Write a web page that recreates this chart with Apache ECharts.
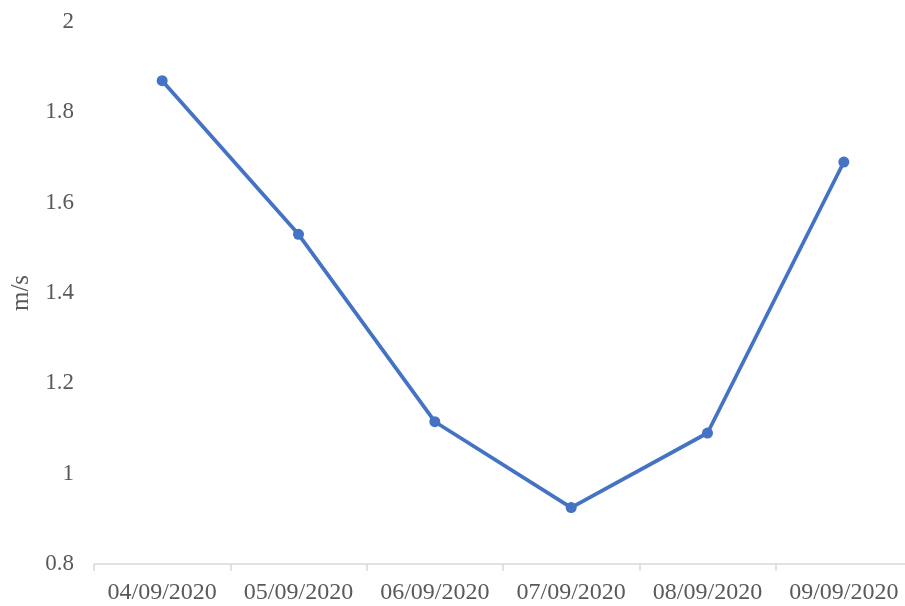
<!DOCTYPE html>
<html>
<head>
<meta charset="utf-8">
<script src="https://cdn.jsdelivr.net/npm/echarts@6/dist/echarts.min.js"></script>
<style>
  html, body { margin: 0; padding: 0; background: #ffffff; }
  #chart { width: 905px; height: 606px; }
</style>
</head>
<body>
<div id="chart"></div>
<script>
// Daily mean wind speed (m/s)
const dates = ['04/09/2020', '05/09/2020', '06/09/2020', '07/09/2020', '08/09/2020', '09/09/2020'];
const speeds = [1.87, 1.53, 1.115, 0.925, 1.09, 1.69];
const yMin = 0.8;
const yMax = 2;
const yStep = 0.2;

const textColor = '#595959';
const fontFamily = '"Liberation Serif", "Times New Roman", serif';

const chart = echarts.init(document.getElementById('chart'), null, { renderer: 'canvas' });
chart.setOption({
  animation: false,
  backgroundColor: '#ffffff',
  grid: { left: 94, width: 818, top: 22, bottom: 42, containLabel: false, outerBoundsMode: 'none' },
  xAxis: {
    type: 'category',
    data: dates,
    boundaryGap: true,
    axisLine: { show: true, lineStyle: { color: '#d9d9d9', width: 1.5 } },
    axisTick: { show: true, alignWithLabel: false, length: 7, lineStyle: { color: '#d9d9d9', width: 1.5 } },
    axisLabel: { color: textColor, fontFamily: fontFamily, fontSize: 24, margin: 17, interval: 0, hideOverlap: false },
    splitLine: { show: false }
  },
  yAxis: {
    type: 'value',
    min: yMin,
    max: yMax,
    interval: yStep,
    name: 'm/s',
    nameLocation: 'middle',
    nameGap: 59,
    nameTextStyle: { color: textColor, fontFamily: fontFamily, fontSize: 25 },
    axisLine: { show: false },
    axisTick: { show: false },
    splitLine: { show: false },
    axisLabel: { color: textColor, fontFamily: fontFamily, fontSize: 23, margin: 20 }
  },
  series: [{
    type: 'line',
    data: speeds,
    symbol: 'circle',
    symbolSize: 11,
    lineStyle: { color: '#4472C4', width: 3.75 },
    itemStyle: { color: '#4472C4' }
  }]
});
</script>
</body>
</html>
